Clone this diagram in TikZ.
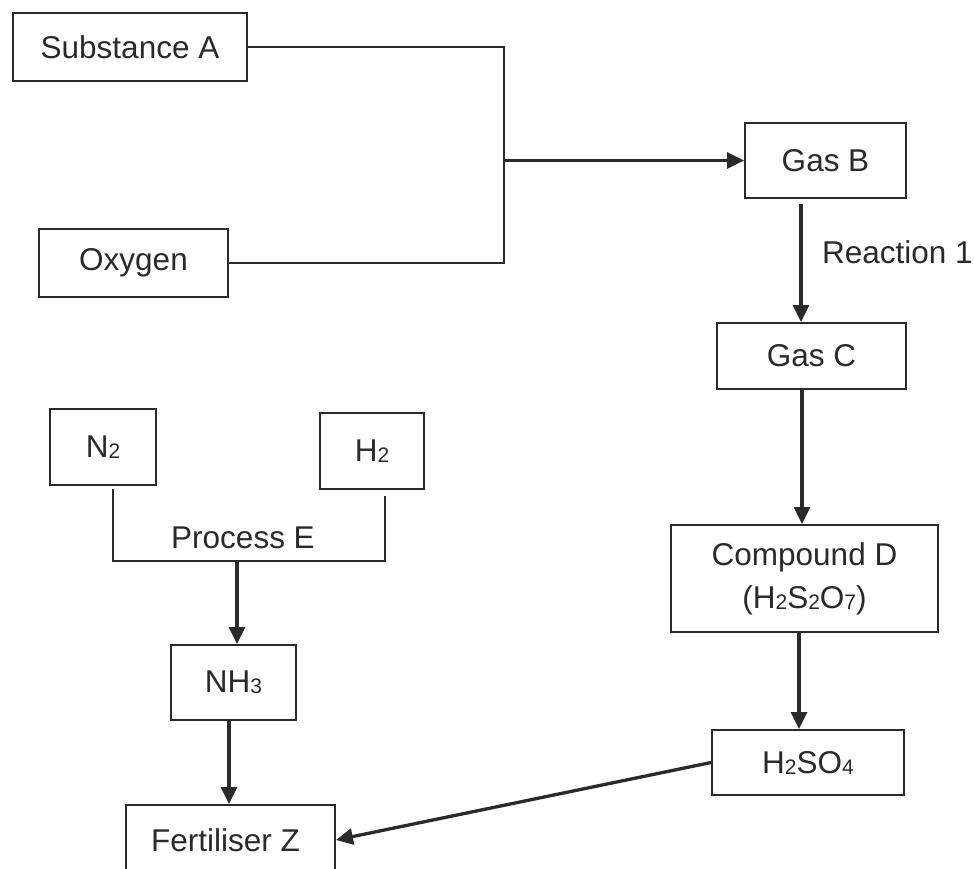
\documentclass[tikz,border=0pt]{standalone}
\usepackage{fontspec}
\setmainfont{Liberation Sans}
\usetikzlibrary{arrows.meta}
\newcommand{\chsub}[1]{\raisebox{-1pt}{\fontsize{21}{22}\selectfont #1}}
\definecolor{ink}{HTML}{2A2A2A}
\begin{document}
\begin{tikzpicture}[x=1pt,y=-1pt,
  box/.style={draw=ink, line width=2pt, inner sep=0pt, text=ink, font=\fontsize{31.5}{43}\selectfont},
  ln/.style={draw=ink, line width=2.2pt},
  arr/.style={draw=ink, line width=3.3pt, -{Triangle[length=17pt,width=16pt]}},
  lbl/.style={text=ink, inner sep=0pt, font=\fontsize{31.5}{38}\selectfont}]
\fill[white] (0,0) rectangle (974,868);
\useasboundingbox (0,0) rectangle (974,868);
% nodes
\node[box, minimum width=234pt, minimum height=68pt] (sa) at (130,47) {Substance A};
\node[box, minimum width=189pt, minimum height=68pt] (ox) at (133.5,263) {Oxygen};
\node[box, minimum width=161pt, minimum height=75pt] (gb) at (825.5,160.5) {Gas B};
\node[box, minimum width=189pt, minimum height=66pt] (gc) at (811.5,356) {Gas C};
\node[box, minimum width=267pt, minimum height=107pt, align=center] (cd) at (804.5,578.5) {Compound D\\(H\chsub{2}S\chsub{2}O\chsub{7})};
\node[box, minimum width=192pt, minimum height=65pt] (hs) at (808,762.5) {H\chsub{2}SO\chsub{4}};
\node[box, minimum width=106pt, minimum height=76pt] (n2) at (103,447) {N\chsub{2}};
\node[box, minimum width=104pt, minimum height=76pt] (h2) at (372,451) {H\chsub{2}};
\node[box, minimum width=125pt, minimum height=75pt] (nh) at (233.5,682.5) {NH\chsub{3}};
\node[box, minimum width=209pt, minimum height=70pt] (fz) at (230.5,840) {Fertiliser Z\hspace*{10pt}};
\node[lbl, anchor=west] (r1) at (822,252) {Reaction 1};
\node[lbl] (pe) at (243,538) {Process E};
% helper coordinates
\coordinate (jx) at (504,0);
\coordinate (xr1) at (801,0);
\coordinate (xr2) at (802,0);
\coordinate (xr3) at (799,0);
\coordinate (xn) at (113,0);
\coordinate (xh) at (385,0);
\coordinate (jy) at (0,561);
\coordinate (xp) at (237,0);
\coordinate (xq) at (229,0);
% connectors
\draw[ln] (sa.east) -- (sa.east -| jx) |- (ox.east);
\draw[arr] (gb.west -| jx) -- (gb.west);
\draw[arr, shorten <=5pt] (gb.south -| xr1) -- (gc.north -| xr1);
\draw[arr] (gc.south -| xr2) -- (cd.north -| xr2);
\draw[arr] (cd.south -| xr3) -- (hs.north -| xr3);
\draw[arr] (hs.west) -- (fz.east);
\draw[ln, shorten <=3pt, shorten >=6pt] (n2.south -| xn) |- (xh |- jy) -- (h2.south -| xh);
\draw[arr] (xp |- jy) -- (nh.north -| xp);
\draw[arr] (nh.south -| xq) -- (fz.north -| xq);
\end{tikzpicture}
\end{document}
